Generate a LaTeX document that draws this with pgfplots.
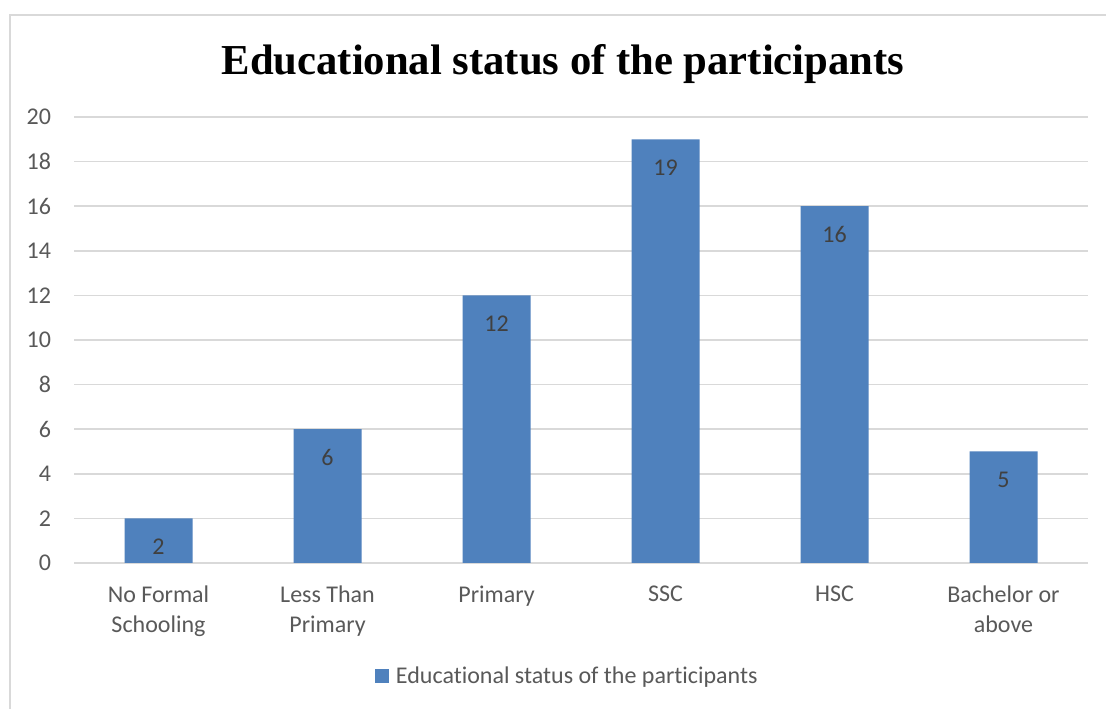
\documentclass[border=0pt]{standalone}
\usepackage{pgfplots}
\pgfplotsset{compat=1.18}
\usepackage{fontspec}
\setmainfont[Ligatures=CommonOff]{Carlito}
\newfontfamily\titlefont{Liberation Serif}
\definecolor{barblue}{HTML}{4F81BD}
\definecolor{gridgray}{HTML}{D9D9D9}
\definecolor{txtgray}{HTML}{595959}
\definecolor{lblgray}{HTML}{404040}
\begin{document}
\begin{tikzpicture}
\path[use as bounding box] (0pt,0pt) rectangle (829.5pt,531.75pt);
\fill[white] (0pt,0pt) rectangle (829.5pt,531.75pt);
\draw[gridgray, line width=1.5pt] (7.5pt,0pt) -- (7.5pt,520.5pt) -- (829.5pt,520.5pt);
\node[font=\titlefont\bfseries\fontsize{32}{38}\selectfont, anchor=base] at (422.25pt,475.5pt) {Educational status of the participants};
\begin{axis}[
  at={(55.5pt,109.5pt)}, anchor=south west,
  scale only axis, width=760.5pt, height=334.5pt,
  xmin=-0.5, xmax=5.5, ymin=0, ymax=20,
  ytick={0,2,...,20},
  xtick={0,1,2,3,4,5},
  xticklabels={{No Formal\\Schooling},{Less Than\\Primary},Primary,SSC,HSC,{Bachelor or\\above}},
  axis line style={draw=none},
  major tick length=0pt,
  ymajorgrids, grid style={gridgray, line width=1.1pt},
  tick label style={font=\fontsize{18}{22.5}\selectfont, text=txtgray},
  /pgf/number format/assume math mode=true,
  yticklabel style={anchor=east, inner sep=0pt, xshift=-17pt},
  xticklabel style={align=center, anchor=north, inner sep=0pt, yshift=-17pt},
  ybar, bar width=51pt,
  nodes near coords,
  nodes near coords style={font=\fontsize{18}{21}\selectfont, text=lblgray, anchor=center, yshift=-21pt},
  legend style={at={(0.487,-0.2534)}, anchor=center, draw=none, font=\fontsize{18}{21}\selectfont, text=txtgray, inner sep=0pt, /tikz/every even column/.append style={column sep=0pt}},
  legend image code/.code={\fill[barblue] (0pt,-5.25pt) rectangle (10.5pt,5.25pt);},
  legend cell align=left,
]
\addplot[fill=barblue, draw=none] coordinates {(0,2) (1,6) (2,12) (3,19) (4,16) (5,5)};
\addlegendentry{\hspace{3pt}Educational status of the participants}
\end{axis}
\end{tikzpicture}
\end{document}
